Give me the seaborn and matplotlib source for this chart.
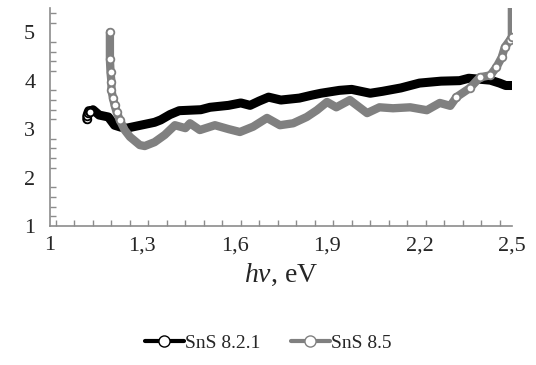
import numpy as np
import pandas as pd
import matplotlib
matplotlib.use("Agg")
import matplotlib.pyplot as plt
import seaborn as sns
from matplotlib.lines import Line2D
from matplotlib.ticker import MultipleLocator

# SnS 8.2.1 (black)
x_821 = [1.12, 1.12, 1.123, 1.126, 1.13, 1.14, 1.16, 1.19, 1.21, 1.23, 1.25, 1.28,
         1.31, 1.34, 1.36, 1.39, 1.42, 1.49, 1.52, 1.58, 1.62, 1.65, 1.68, 1.71,
         1.75, 1.81, 1.85, 1.88, 1.94, 1.98, 2.04, 2.08, 2.14, 2.2, 2.27, 2.33,
         2.36, 2.43, 2.46, 2.48, 2.5]
y_821 = [3.2, 3.27, 3.33, 3.38, 3.35, 3.4, 3.29, 3.25, 3.08, 3.04, 3.02, 3.06,
         3.1, 3.14, 3.19, 3.3, 3.38, 3.4, 3.45, 3.49, 3.54, 3.49, 3.58, 3.66,
         3.6, 3.64, 3.7, 3.74, 3.8, 3.82, 3.74, 3.78, 3.85, 3.95, 3.99, 4.0,
         4.05, 4.01, 3.95, 3.9, 3.9]

# SnS 8.5 (gray)
x_85 = [1.195, 1.195, 1.197, 1.2, 1.2, 1.205, 1.21, 1.217, 1.227, 1.243, 1.26,
        1.292, 1.308, 1.34, 1.373, 1.406, 1.44, 1.455, 1.487, 1.536, 1.58, 1.617,
        1.66, 1.705, 1.747, 1.79, 1.834, 1.867, 1.9, 1.93, 1.974, 2.03, 2.07,
        2.114, 2.17, 2.224, 2.266, 2.3, 2.32, 2.364, 2.396, 2.43, 2.45, 2.467,
        2.477, 2.494, 2.5, 2.5]
y_85 = [5.0, 4.44, 4.17, 3.97, 3.8, 3.64, 3.5, 3.35, 3.19, 2.98, 2.84,
        2.67, 2.65, 2.73, 2.88, 3.08, 3.02, 3.12, 2.98, 3.08, 3.0, 2.94,
        3.05, 3.23, 3.08, 3.12, 3.25, 3.39, 3.56, 3.45, 3.6, 3.33, 3.45,
        3.43, 3.45, 3.39, 3.54, 3.48, 3.66, 3.85, 4.07, 4.11, 4.28, 4.48,
        4.69, 4.84, 4.9, 5.6]

x_ticks = [1.0, 1.3, 1.6, 1.9, 2.2, 2.5]
x_labels = ["1", "1,3", "1,6", "1,9", "2,2", "2,5"]
y_ticks = [1, 2, 3, 4, 5]

sns.set_style("white")
plt.rcParams["font.family"] = ["Liberation Serif", "DejaVu Serif"]
plt.rcParams["mathtext.fontset"] = "custom"
plt.rcParams["mathtext.it"] = "Liberation Serif:italic"
plt.rcParams["mathtext.rm"] = "Liberation Serif"

axis_gray = "#8c8c8c"
black = "#000000"
gray = "#808080"

fig = plt.figure(figsize=(5.36, 3.65), dpi=100)
ax = fig.add_axes([0.093, 0.381, 0.862, 0.597])

df1 = pd.DataFrame({"x": x_821, "y": y_821})
df2 = pd.DataFrame({"x": x_85, "y": y_85})

sns.lineplot(data=df1, x="x", y="y", sort=False, estimator=None, ax=ax,
             color=black, lw=6.5, marker="o", markersize=5.5, mfc="white",
             mec=black, mew=1.3, markevery=list(range(0, 5)))
sns.lineplot(data=df2, x="x", y="y", sort=False, estimator=None, ax=ax,
             color=gray, lw=6, marker="o", markersize=5.5, mfc="white",
             mec=gray, mew=1.3,
             markevery=list(range(0, 9)) + list(range(38, 47)))

ax.set_xlim(1.0, 2.5)
ax.set_ylim(1.0, 5.5)
ax.set_xticks(x_ticks)
ax.set_xticklabels(x_labels)
ax.set_yticks(y_ticks)
ax.xaxis.set_minor_locator(MultipleLocator(0.06))
ax.yaxis.set_minor_locator(MultipleLocator(0.2))
ax.tick_params(which="major", direction="inout", length=9, width=1,
               color=axis_gray, labelsize=16, pad=6)
ax.tick_params(which="minor", direction="in", length=4.5, width=1,
               color=axis_gray, bottom=True, left=True)
ax.tick_params(axis="x", which="major", pad=3)

for s in ["top", "right"]:
    ax.spines[s].set_visible(False)
for s in ["left", "bottom"]:
    ax.spines[s].set_color(axis_gray)
    ax.spines[s].set_linewidth(1.2)

ax.set_xlabel("$hv$, eV", fontsize=20, labelpad=5)
ax.set_ylabel("")

handles = [
    Line2D([], [], color=black, lw=3, marker="o", markersize=8,
           mfc="white", mec=black, mew=1),
    Line2D([], [], color=gray, lw=3, marker="o", markersize=8,
           mfc="white", mec=gray, mew=1),
]
fig.legend(handles, ["SnS 8.2.1", "SnS 8.5"], loc="center",
           bbox_to_anchor=(0.5, 0.06), ncol=2, frameon=False,
           fontsize=14, handlelength=2.0, handletextpad=0.05,
           columnspacing=1.6)

fig.savefig("out.png", dpi=100)
plt.close(fig)
